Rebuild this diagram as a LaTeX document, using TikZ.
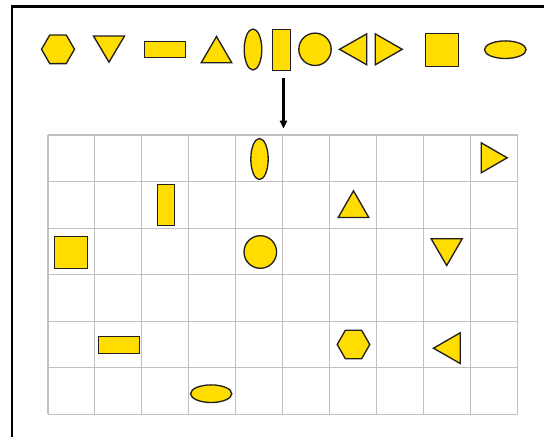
\documentclass[tikz,border=0pt]{standalone}
\usetikzlibrary{arrows.meta}
\definecolor{shapefill}{HTML}{FFDD00}
\definecolor{shapeline}{HTML}{231F20}
\definecolor{gridgray}{HTML}{C0C0C0}
\tikzset{
  shp/.style={fill=shapefill, draw=shapeline, line width=1pt, line join=miter},
  gridline/.style={draw=gridgray, line width=0.8pt},
  frameline/.style={draw=black, line width=1.6pt},
  flowarrow/.style={draw=black, line width=1.6pt, -{Triangle[length=6pt,width=5.5pt]}}
}
\begin{document}
\begin{tikzpicture}[x=0.75pt,y=-0.75pt]
\useasboundingbox (0,0) rectangle (544,437);
% frame
\draw[frameline] (12,437) |- (544,6.5);
% grid
\foreach \i in {0,...,10} {
  \draw[gridline] ({48+46.95*\i},135) -- ({48+46.95*\i},414.3);
}
\foreach \j in {0,...,6} {
  \draw[gridline] (48,{135+46.55*\j}) -- (517.5,{135+46.55*\j});
}
% top row of shapes
\draw[shp] (74.5,49.3) -- (66.25,35) -- (49.75,35) -- (41.5,49.3) -- (49.75,63.6) -- (66.25,63.6) -- cycle;
\draw[shp] (93.5,36) -- (124.5,36) -- (109,62.2) -- cycle;
\draw[shp] (144.8,41.2) rectangle (185.5,57.8);
\draw[shp] (201.2,62.8) -- (231.8,62.8) -- (216.5,36.5) -- cycle;
\draw[shp] (253,49.5) ellipse [x radius=8.8, y radius=20.5];
\draw[shp] (272.2,29.2) rectangle (290.2,70.2);
\draw[shp] (315,49.3) circle [radius=16.2];
\draw[shp] (339.5,49.3) -- (366.8,33.8) -- (366.8,64.8) -- cycle;
\draw[shp] (402.2,49.3) -- (375.2,33.8) -- (375.2,64.8) -- cycle;
\draw[shp] (425.8,33.8) rectangle (458.5,66.5);
\draw[shp] (505.3,49.7) ellipse [x radius=20.8, y radius=8.8];
% arrow
\coordinate (arrS) at (283.5,78);
\coordinate (arrE) at (283.5,128.5);
\draw[flowarrow] (arrS) -- (arrE);
% shapes placed on the grid
\draw[shp] (259.5,159) ellipse [x radius=8.7, y radius=20.5];
\draw[shp] (481.2,142.8) -- (507.2,157.8) -- (481.2,172.8) -- cycle;
\draw[shp] (157.5,184.2) rectangle (174.8,225.2);
\draw[shp] (338.2,217.5) -- (368.8,217.5) -- (353.5,190.8) -- cycle;
\draw[shp] (54.8,236.2) rectangle (87.2,268.5);
\draw[shp] (260.3,252) circle [radius=16.3];
\draw[shp] (431.2,238.8) -- (462.2,238.8) -- (446.7,265.5) -- cycle;
\draw[shp] (98.5,336.5) rectangle (139.5,353.5);
\draw[shp] (369.8,344.5) -- (361.6,330.2) -- (345.4,330.2) -- (337.2,344.5) -- (345.4,358.8) -- (361.6,358.8) -- cycle;
\draw[shp] (433.5,348.2) -- (460.2,332.8) -- (460.2,363.5) -- cycle;
\draw[shp] (211.2,393.7) ellipse [x radius=20.6, y radius=8.8];
\end{tikzpicture}
\end{document}
